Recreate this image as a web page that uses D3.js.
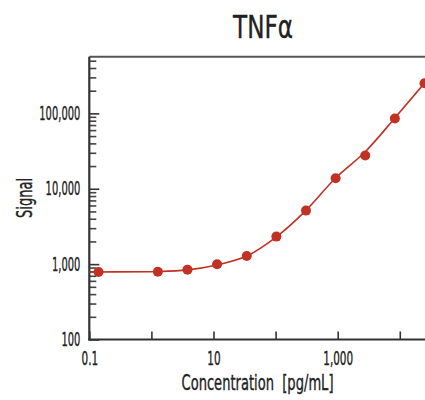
<!DOCTYPE html>
<meta charset="utf-8">
<script src="https://d3js.org/d3.v7.min.js"></script>
<style>
body{margin:0;background:#fff;}
text{font-family:"DejaVu Sans Condensed","DejaVu Sans",sans-serif;font-stretch:condensed;fill:#222;stroke:#222;stroke-width:0.35px;}
.domain{display:none}
</style>
<body>
<div id="chart"></div>
<script>
// 3-fold dilution series, concentrations in pg/mL
var conc   = [0.141, 1.27, 3.81, 11.43, 34.3, 102.9, 308.6, 925.9, 2778, 8333, 25000];
var signal = [788, 794, 845, 995, 1282, 2317, 5130, 13800, 27600, 85500, 251000];
// fitted curve
var fitConc   = [0.1, 0.141, 1.27, 3.81, 11.43, 34.3, 102.9, 308.6, 925.9, 2778, 8333, 25000];
var fitSignal = [786, 788, 798, 840, 975, 1280, 2300, 5170, 13900, 31000, 87000, 252000];

var xTicks = [0.1, 1, 10, 100, 1000, 10000];
var xLabels = ["0.1", "", "10", "", "1,000", ""];
var yMajor = [100, 1000, 10000, 100000];

var W = 425, H = 400;
var red = "#c13224";

// narrow the installed font down to the condensed look of the original
function squeeze(sel, f){
  sel.each(function(){
    var w = this.getComputedTextLength();
    if(w > 0) d3.select(this).attr("textLength", w*f).attr("lengthAdjust", "spacingAndGlyphs");
  });
}

var svg = d3.select("#chart").append("svg")
    .attr("width", W)
    .attr("height", H);

var x = d3.scaleLog().domain([0.1, 25000]).range([89.3, 424.5]);
var y = d3.scaleLog().domain([100, 565000]).range([339.5, 56.7]);

// minor y ticks 2..9 per decade
var yMinor = [];
yMajor.forEach(function(d){
  for(var k=2;k<10;k++){ if(d*k < y.domain()[1]) yMinor.push(d*k); }
});

// top frame line
svg.append("line")
  .attr("x1", x.range()[0]).attr("x2", W)
  .attr("y1", y.range()[1]).attr("y2", y.range()[1])
  .attr("stroke", "#555").attr("stroke-width", 2);

// y minor ticks
var gm = svg.append("g")
  .attr("transform", "translate(" + x.range()[0] + ",0)")
  .call(d3.axisLeft(y).tickValues(yMinor).tickSize(-7).tickFormat(""));
gm.selectAll(".tick line").attr("stroke", "#444").attr("stroke-width", 1.6);

// y major ticks + labels
var gy = svg.append("g")
  .attr("transform", "translate(" + x.range()[0] + ",0)")
  .call(d3.axisLeft(y).tickValues(yMajor).tickSize(-10).tickPadding(9).tickFormat(d3.format(",")));
gy.selectAll(".tick line").attr("stroke", "#333").attr("stroke-width", 1.6);
gy.selectAll("text").style("font-size", "19px").attr("fill", "#222").call(squeeze, 0.58);

// x ticks
var gx = svg.append("g")
  .attr("transform", "translate(0," + y.range()[0] + ")")
  .call(d3.axisBottom(x).tickValues(xTicks).tickSize(-8).tickPadding(12)
    .tickFormat(function(d,i){ return xLabels[i]; }));
gx.selectAll(".tick line").attr("stroke", "#333").attr("stroke-width", 1.6);
gx.selectAll("text").style("font-size", "19px").attr("fill", "#222").call(squeeze, 0.61);

// axis lines
svg.append("line")
  .attr("x1", x.range()[0]).attr("x2", x.range()[0])
  .attr("y1", y.range()[1]).attr("y2", y.range()[0] + 1)
  .attr("stroke", "#333").attr("stroke-width", 2.2);
svg.append("line")
  .attr("x1", x.range()[0] - 1).attr("x2", W)
  .attr("y1", y.range()[0]).attr("y2", y.range()[0])
  .attr("stroke", "#333").attr("stroke-width", 2.2);

// fitted curve
var fit = fitConc.map(function(c,i){ return [c, fitSignal[i]]; });
svg.append("path")
  .datum(fit)
  .attr("fill", "none")
  .attr("stroke", red)
  .attr("stroke-width", 1.6)
  .attr("d", d3.line()
    .x(function(d){ return x(d[0]); })
    .y(function(d){ return y(d[1]); })
    .curve(d3.curveCatmullRom));

// points
svg.append("g").selectAll("circle")
  .data(conc)
  .enter()
  .append("circle")
  .attr("cx", function(d){ return x(d); })
  .attr("cy", function(d,i){ return y(signal[i]); })
  .attr("r", 5)
  .attr("fill", red);

// title & axis titles
svg.append("text")
  .attr("x", 263).attr("y", 38)
  .attr("text-anchor", "middle")
  .style("font-size", "32px")
  .attr("textLength", 60).attr("lengthAdjust", "spacingAndGlyphs")
  .text("TNF\u03b1");

svg.append("text")
  .attr("transform", "translate(32,198) rotate(-90)")
  .attr("text-anchor", "middle")
  .style("font-size", "22px")
  .attr("textLength", 40).attr("lengthAdjust", "spacingAndGlyphs")
  .text("Signal");

svg.append("text")
  .attr("x", 257.5).attr("y", 389.5)
  .attr("text-anchor", "middle")
  .style("font-size", "21px")
  .attr("textLength", 152).attr("lengthAdjust", "spacingAndGlyphs")
  .text("Concentration\u00a0 [pg/mL]");
</script>
</body>
